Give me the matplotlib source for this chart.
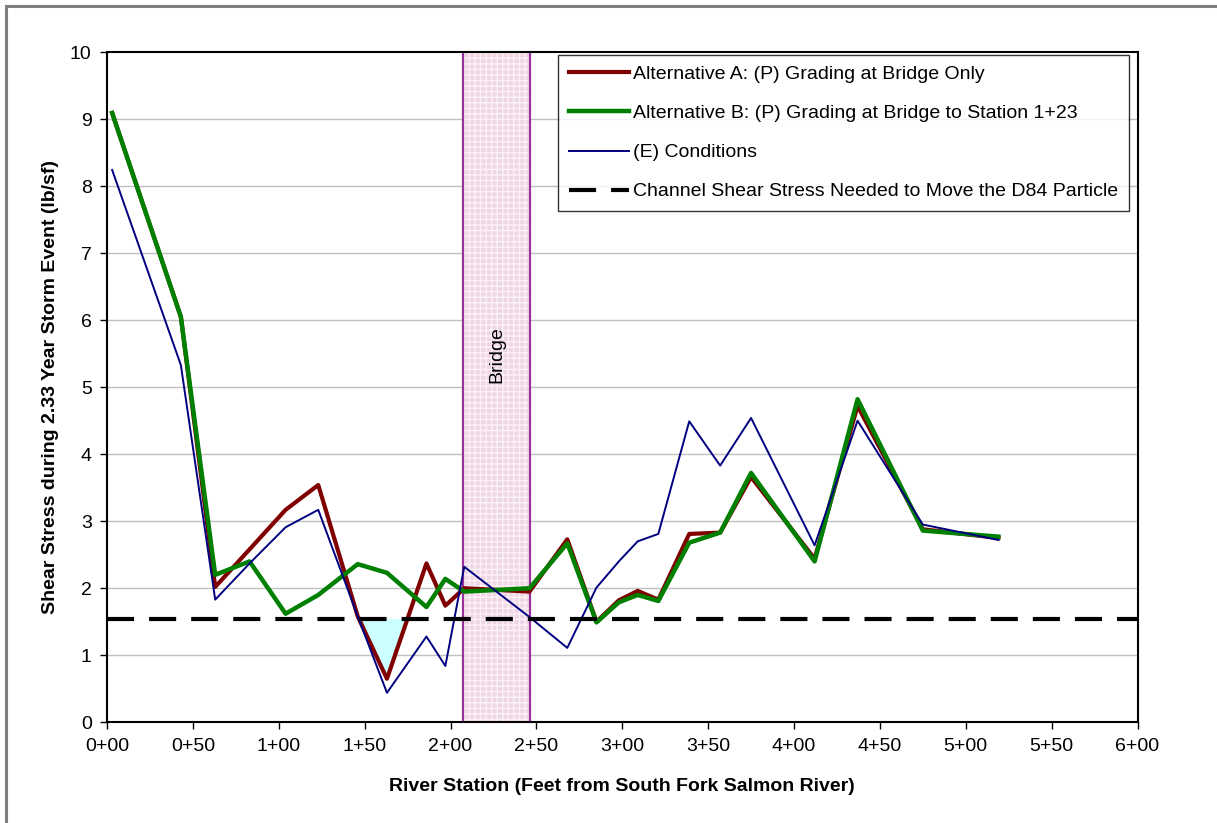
import matplotlib
matplotlib.use("Agg")
import matplotlib.pyplot as plt
from matplotlib.patches import Rectangle
from matplotlib.lines import Line2D

plt.rcParams['font.family'] = ['Liberation Sans', 'DejaVu Sans']

# River stations (ft from South Fork Salmon River)
stations = [3, 43, 63, 83, 104, 123, 146, 163, 186, 197, 208, 246,
            268, 285, 298, 309, 321, 339, 357, 375, 412, 437, 475, 519]

# Shear stress (lb/sf) during 2.33-year storm event
alt_a = [9.09, 6.05, 2.02, 2.58, 3.17, 3.54, 1.58, 0.65, 2.37, 1.74, 2.00, 1.95,
         2.73, 1.50, 1.82, 1.96, 1.83, 2.81, 2.83, 3.66, 2.44, 4.72, 2.88, 2.75]
alt_b = [9.09, 6.05, 2.20, 2.40, 1.62, 1.90, 2.36, 2.23, 1.72, 2.14, 1.95, 2.00,
         2.67, 1.49, 1.79, 1.90, 1.81, 2.68, 2.83, 3.72, 2.40, 4.82, 2.86, 2.77]
existing = [8.24, 5.33, 1.83, 2.37, 2.91, 3.17, 1.58, 0.44, 1.28, 0.84, 2.32, 1.57,
            1.11, 2.01, 2.40, 2.70, 2.81, 4.49, 3.83, 4.54, 2.64, 4.50, 2.95, 2.72]

d84_threshold = 1.54
bridge_start, bridge_end = 207.5, 246.0

x_ticks = [0, 50, 100, 150, 200, 250, 300, 350, 400, 450, 500, 550, 600]
x_tick_labels = ["0+00", "0+50", "1+00", "1+50", "2+00", "2+50", "3+00",
                 "3+50", "4+00", "4+50", "5+00", "5+50", "6+00"]
y_ticks = list(range(0, 11))

FS = 14
W, H = 1217, 823
fig = plt.figure(figsize=(W / 100, H / 100), dpi=100)
ax = fig.add_axes([107 / W, 1 - 722.3 / H, (1137.5 - 107) / W, (722.3 - 52) / H])

# outer chart border (left and top visible)
fig.patches.append(Rectangle((5.5 / W, -0.5), 2.0, 1.5 - 5.5 / H,
                             transform=fig.transFigure, fill=False,
                             edgecolor='#808080', linewidth=2.2, clip_on=False))

ax.set_xlim(0, 600)
ax.set_ylim(0, 10)

# gridlines
for yv in y_ticks[1:-1]:
    ax.axhline(yv, color='#c0c0c0', linewidth=1.0, zorder=0.5)

# bridge band
ax.axvspan(bridge_start, bridge_end, facecolor='#efd6e5', edgecolor='none', zorder=1)
ax.axvspan(bridge_start, bridge_end, facecolor='none', edgecolor='#fbf1f7',
           hatch='+++', linewidth=0, zorder=1.1)
for xv in (bridge_start, bridge_end):
    ax.axvline(xv, color='#993399', linewidth=1.6, zorder=1.2)
ax.text((bridge_start + bridge_end) / 2, 5.48, "Bridge", rotation=90,
        ha='center', va='center', fontsize=FS, zorder=1.3)

# area where Alternative A falls below the D84 threshold
ax.fill_between(stations, alt_a, d84_threshold,
                where=[v < d84_threshold for v in alt_a],
                interpolate=True, facecolor='#ccffff', edgecolor='none', zorder=1.5)

ax.plot(stations, alt_a, color='#800000', linewidth=3.0, zorder=3)
ax.plot(stations, alt_b, color='#008000', linewidth=3.2, zorder=3.1)
ax.plot(stations, existing, color='#000080', linewidth=1.4, zorder=3.2)
thr = ax.axhline(d84_threshold, color='black', linewidth=3.0, zorder=3.3)
thr.set_dashes([6.5, 3.6])
thr.set_clip_on(False)

ax.set_xticks(x_ticks)
ax.set_xticklabels(x_tick_labels)
ax.set_yticks(y_ticks)
ax.tick_params(axis='both', direction='out', length=5, width=1, labelsize=FS,
               pad=6, colors='black')
for sp in ax.spines.values():
    sp.set_linewidth(1.5)
    sp.set_color('black')

ax.set_xlabel("River Station (Feet from South Fork Salmon River)",
              fontsize=FS, fontweight='bold', labelpad=17)
ax.set_ylabel("Shear Stress during 2.33 Year Storm Event (lb/sf)",
              fontsize=FS, fontweight='bold', labelpad=8)

handles = [
    Line2D([], [], color='#800000', linewidth=3.0),
    Line2D([], [], color='#008000', linewidth=3.2),
    Line2D([], [], color='#000080', linewidth=1.4),
    Line2D([], [], color='black', linewidth=3.0, dashes=[6.5, 3.6]),
]
labels = [
    "Alternative A: (P) Grading at Bridge Only",
    "Alternative B: (P) Grading at Bridge to Station 1+23",
    "(E) Conditions",
    "Channel Shear Stress Needed to Move the D84 Particle",
]
leg = ax.legend(handles, labels, loc='upper right',
                bbox_to_anchor=(1128.5 / W, 1 - 55 / H),
                bbox_transform=fig.transFigure,
                fontsize=FS, frameon=True, fancybox=False, shadow=False,
                handlelength=3.1, handletextpad=0.2, labelspacing=1.1,
                borderpad=0.55, borderaxespad=0)
leg.get_frame().set_edgecolor('black')
leg.get_frame().set_linewidth(1.0)
leg.set_zorder(5)

fig.savefig("out.png", dpi=100)
